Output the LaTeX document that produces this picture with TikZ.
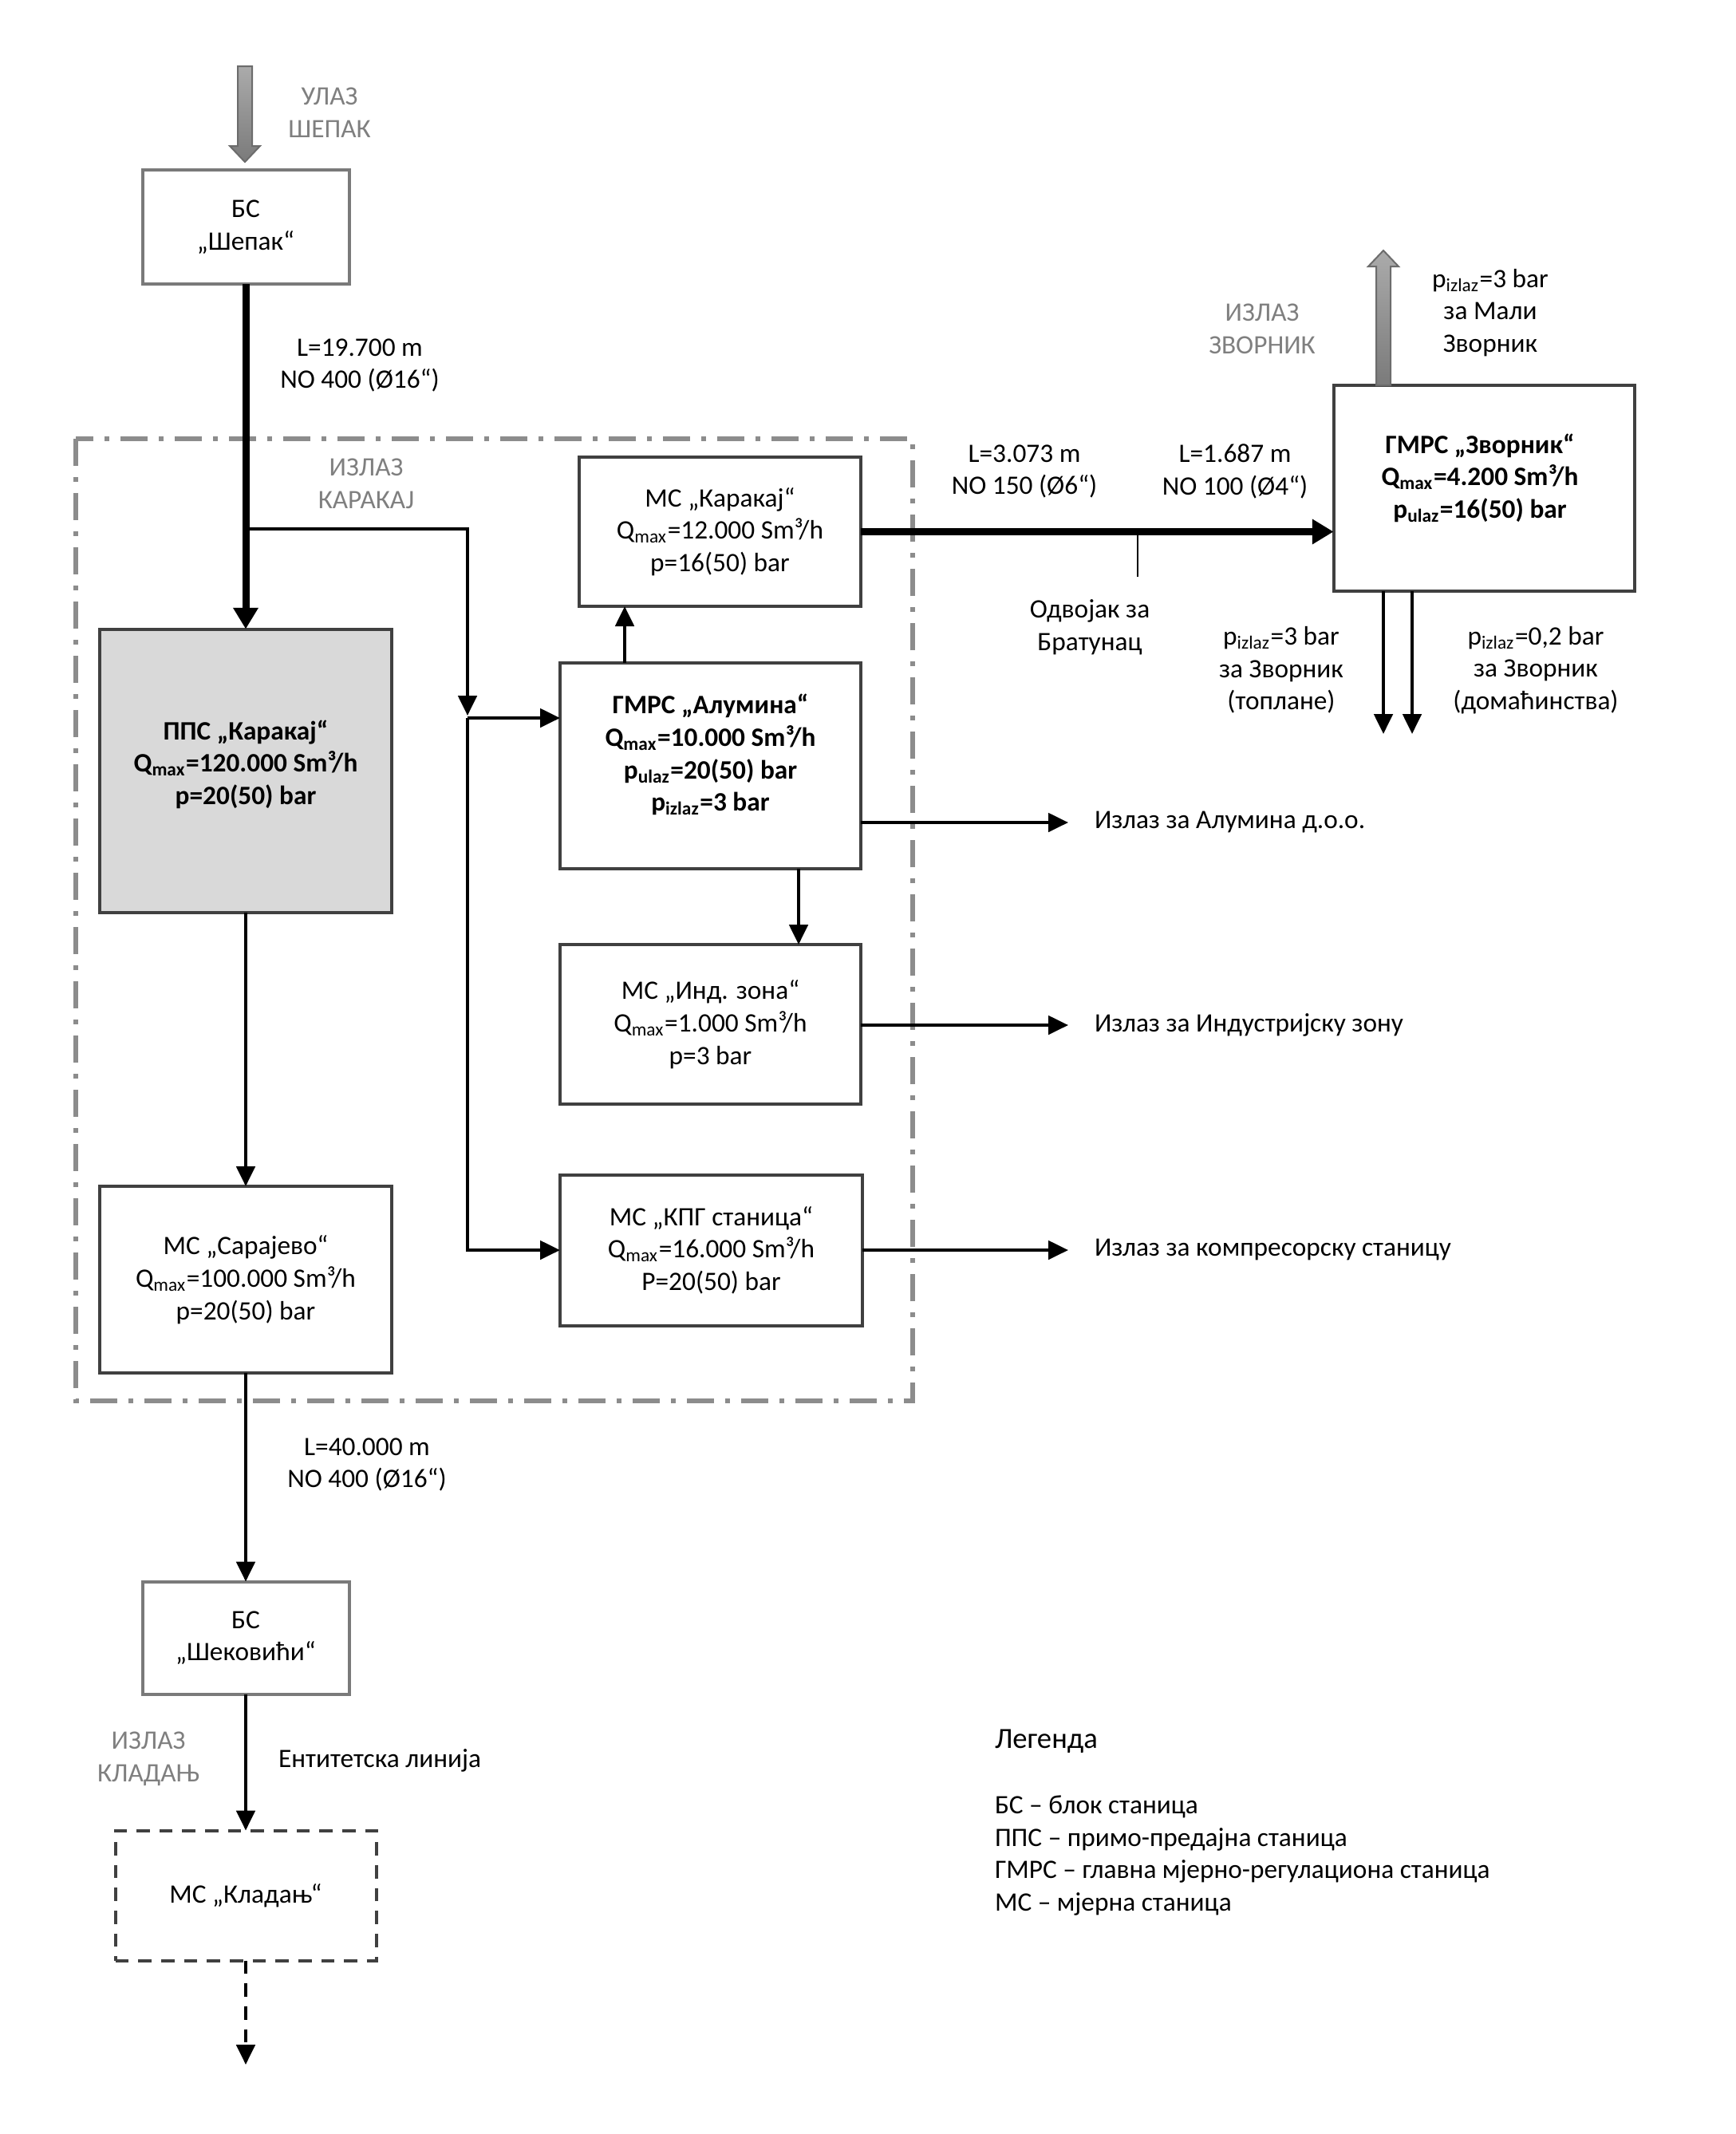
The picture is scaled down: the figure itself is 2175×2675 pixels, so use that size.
\documentclass[tikz,border=0pt]{standalone}
\usepackage{fontspec}
\setmainfont{Carlito}
\usetikzlibrary{arrows.meta}
\definecolor{boxgray}{HTML}{404040}
\definecolor{lblgray}{HTML}{7F7F7F}
\definecolor{bsgray}{HTML}{7A7A7A}
\definecolor{ddgray}{HTML}{8C8C8C}
\definecolor{ppsfill}{HTML}{D9D9D9}
\begin{document}
\begin{tikzpicture}[x=0.3pt,y=-0.3pt,
  every node/.style={font=\fontsize{10}{12.2}\selectfont, inner sep=0pt, outer sep=0pt},
  box/.style={draw=boxgray, line width=1.2pt, align=center},
  bsbox/.style={draw=bsgray, line width=1.2pt, align=center},
  lbl/.style={align=center},
  boldlbl/.style={align=center, font=\fontsize{10}{12.2}\selectfont\bfseries},
  glbl/.style={align=center, text=lblgray},
  arr/.style={line width=1.2pt, -{Triangle[length=7.5pt,width=7pt]}},
  thickarr/.style={line width=2.7pt, -{Triangle[length=8pt,width=9pt]}},
  thinline/.style={line width=1.2pt},
  garrow/.style={draw=lblgray!85!black, line width=0.6pt, top color=black!33, bottom color=black!52}
]
\useasboundingbox (0,0) rectangle (2175,2675);

% boxes
\node[bsbox, minimum width=77.7pt, minimum height=42.9pt] (bs1) at (308,284.5) {БС\\„Шепак“};
\node[box, fill=ppsfill, minimum width=109.8pt, minimum height=106.5pt] (pps) at (308,966) {};
\node[boldlbl] (ppst) at (308,958)
  {ППС „Каракај“\\Q\textsubscript{max}=120.000 Sm³/h\\p=20(50) bar};
\node[box, minimum width=109.8pt, minimum height=70.2pt] (sar) at (308,1604)
  {МС „Сарајево“\\Q\textsubscript{max}=100.000 Sm³/h\\p=20(50) bar};
\node[bsbox, minimum width=77.7pt, minimum height=42.3pt] (bs2) at (308,2053)
  {БС\\„Шековићи“};
\node[box, dash pattern=on 5pt off 3.6pt, minimum width=98.1pt, minimum height=48.9pt] (kl) at (308,2376)
  {МС „Кладањ“};

\node[box, minimum width=105.9pt, minimum height=56.1pt] (mk) at (902.5,666.5)
  {МС „Каракај“\\Q\textsubscript{max}=12.000 Sm³/h\\p=16(50) bar};
\node[box, minimum width=113.1pt, minimum height=77.4pt] (alum) at (890.5,960) {};
\node[boldlbl] (alumt) at (890.5,946)
  {ГМРС „Алумина“\\Q\textsubscript{max}=10.000 Sm³/h\\p\textsubscript{ulaz}=20(50) bar\\p\textsubscript{izlaz}=3 bar};
\node[box, minimum width=113.1pt, minimum height=60pt] (ind) at (890.5,1284)
  {МС „Инд. зона“\\Q\textsubscript{max}=1.000 Sm³/h\\p=3 bar};
\node[box, minimum width=113.7pt, minimum height=56.7pt] (kpg) at (891.5,1567)
  {МС „КПГ станица“\\Q\textsubscript{max}=16.000 Sm³/h\\P=20(50) bar};
\node[box, minimum width=113.1pt, minimum height=77.4pt] (zv) at (1860,612) {};
\node[boldlbl] (zvt) at (1855,599)
  {ГМРС „Зворник“\\Q\textsubscript{max}=4.200 Sm³/h\\p\textsubscript{ulaz}=16(50) bar};

% dash-dot region
\draw[ddgray, line width=1.8pt, dash pattern=on 10.2pt off 4.2pt on 1.8pt off 4.2pt] (95,550) rectangle (1144,1756);

% gray big arrows
\shade[garrow] (298,83) -- (316,83) -- (316,183) -- (326,183) -- (307,203) -- (288,183) -- (298,183) -- cycle;
\shade[garrow] (1725,483) -- (1743,483) -- (1743,334) -- (1753,334) -- (1734,314) -- (1715,334) -- (1725,334) -- cycle;

% labels
\node[glbl] (ulaz) at (413,141) {УЛАЗ\\ШЕПАК};
\node[lbl] (l1) at (451,458) {L=19.700 m\\NO 400 (Ø16“)};
\node[glbl] (izk) at (459,606) {ИЗЛАЗ\\КАРАКАЈ};
\node[lbl] (l2) at (1284,591) {L=3.073 m\\NO 150 (Ø6“)};
\node[lbl] (l3) at (1548,591) {L=1.687 m\\NO 100 (Ø4“)};
\node[glbl] (izz) at (1582,412) {ИЗЛАЗ\\ЗВОРНИК};
\node[lbl] (mz) at (1868,392) {p\textsubscript{izlaz}=3 bar\\за Мали\\Зворник};
\node[lbl] (zt) at (1606,840) {p\textsubscript{izlaz}=3 bar\\за Зворник\\(топлане)};
\node[lbl] (zd) at (1925,840) {p\textsubscript{izlaz}=0,2 bar\\за Зворник\\(домаћинства)};
\node[lbl] (odvl) at (1366,786) {Одвојак за\\Братунац};
\node[anchor=west] (outa) at (1372,1031) {Излаз за Алумина д.о.о.};
\node[anchor=west] (outi) at (1372,1285) {Излаз за Индустријску зону};
\node[anchor=west] (outk) at (1372,1567) {Излаз за компресорску станицу};
\node[lbl] (l4) at (460,1836) {L=40.000 m\\NO 400 (Ø16“)};
\node[glbl] (izkl) at (186,2205) {ИЗЛАЗ\\КЛАДАЊ};
\node[anchor=west] (ent) at (349,2207) {Ентитетска линија};
\node[anchor=west, font=\fontsize{11}{13}\selectfont] (leg) at (1247,2183) {Легенда};
\node[anchor=west, align=left] (legt) at (1247,2326)
  {БС – блок станица\\ППС – примо-предајна станица\\ГМРС – главна мјерно-регулациона станица\\МС – мјерна станица};

% coordinates
\coordinate (br) at (308,663);
\coordinate (jdown) at (586,897);
\coordinate (jn) at (586,900);
\coordinate (xa) at (783,0);
\coordinate (xb) at (1001,0);
\coordinate (odv) at (1426,668);
\coordinate (odvend) at (1426,723);
\coordinate (ea) at (1339,1031);
\coordinate (ei) at (1339,1285);
\coordinate (ek) at (1339,1567);
\coordinate (zd1) at (1734,920);
\coordinate (zd2) at (1770,920);
\coordinate (klend) at (308,2588);

% connectors
\draw[thickarr] (bs1.south) -- (pps.north);
\draw[arr] (br) -| (jdown);
\draw[arr] (jn) -- (jn -| alum.west);
\draw[arr] (jn) |- (kpg.west);
\draw[arr] (pps.south) -- (sar.north);
\draw[arr] (sar.south) -- (bs2.north);
\draw[arr] (bs2.south) -- (kl.north);
\draw[arr, dash pattern=on 5pt off 3.6pt] (kl.south) -- (klend);
\draw[arr] (xa |- alum.north) -- (xa |- mk.south);
\draw[arr] (xb |- alum.south) -- (xb |- ind.north);
\draw[thickarr] (mk.east) -- (mk.east -| zv.west);
\draw[line width=0.7pt] (odv) -- (odvend);
\draw[arr] (alum.east |- ea) -- (ea);
\draw[arr] (ind.east |- ei) -- (ei);
\draw[arr] (kpg.east |- ek) -- (ek);
\draw[arr] (zd1 |- zv.south) -- (zd1);
\draw[arr] (zd2 |- zv.south) -- (zd2);
\end{tikzpicture}
\end{document}
